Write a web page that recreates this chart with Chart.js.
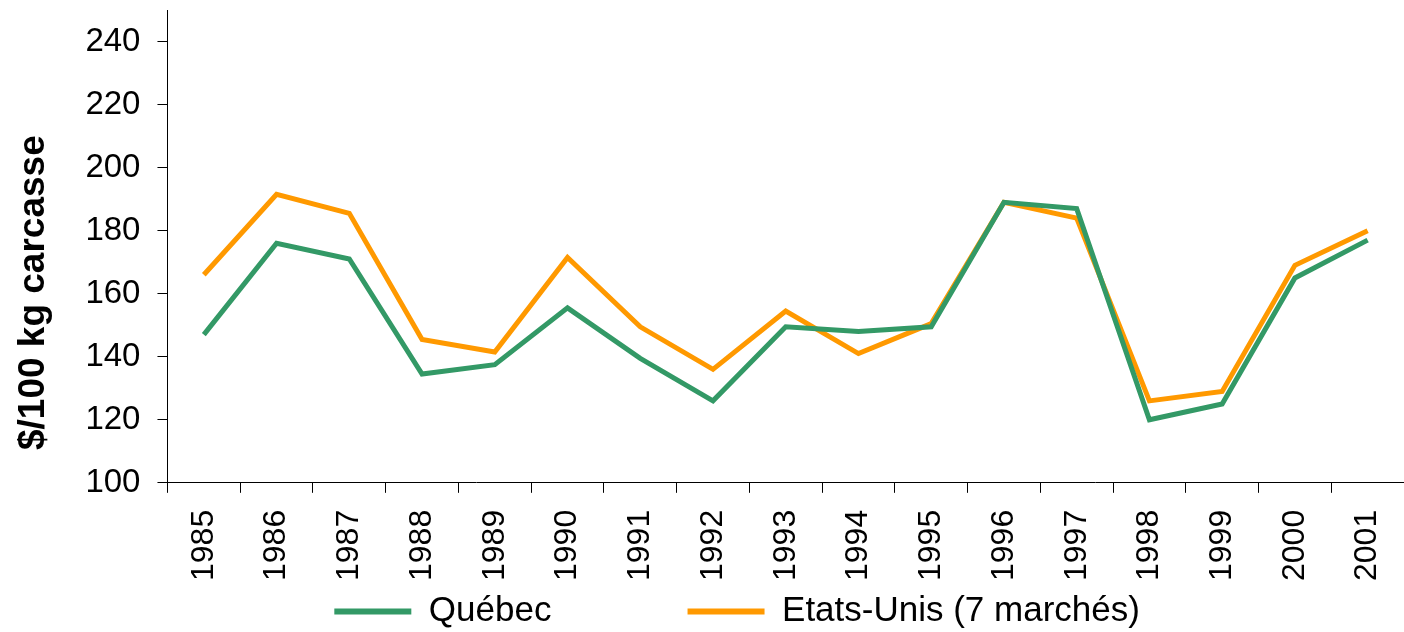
<!DOCTYPE html>
<html>
<head>
<meta charset="utf-8">
<script src="https://cdn.jsdelivr.net/npm/chart.js@4/dist/chart.umd.min.js"></script>
<style>
  html, body { margin: 0; padding: 0; background: #fff; }
  #wrap { width: 1404px; height: 632px; }
</style>
</head>
<body>
<div id="wrap"><canvas id="display_graph"></canvas></div>
<script>
const years = ["1985", "1986", "1987", "1988", "1989", "1990", "1991", "1992", "1993",
  "1994", "1995", "1996", "1997", "1998", "1999", "2000", "2001"];
const quebec = [147, 176, 171, 134.5, 137.5, 155.5, 139.5, 126, 149.5, 148, 149.5, 189, 187, 120, 125, 165, 177];
const etatsUnis = [166, 191.5, 185.5, 145.5, 141.5, 171.5, 149.5, 136, 154.5, 141, 150.5, 189, 184, 126, 129, 169, 180];
const yTicks = [100, 120, 140, 160, 180, 200, 220, 240];

const font = "'Liberation Sans', Arial, sans-serif";
const ctx = document.getElementById("display_graph").getContext("2d");

const data = {
  labels: years,
  datasets: [
    {
      label: "Québec",
      data: quebec,
      borderColor: "#339966",
      backgroundColor: "#339966",
      borderWidth: 5,
      pointRadius: 0,
      tension: 0
    },
    {
      label: "Etats-Unis (7 marchés)",
      data: etatsUnis,
      borderColor: "#FF9900",
      backgroundColor: "#FF9900",
      borderWidth: 5,
      pointRadius: 0,
      tension: 0
    }
  ]
};

const options = {
  responsive: true,
  maintainAspectRatio: false,
  animation: false,
  layout: {
    padding: { top: 10, right: 0, left: 12, bottom: -7 }
  },
  plugins: {
    tooltip: { enabled: false },
    legend: {
      position: "bottom",
      fullSize: false,
      labels: {
        font: { family: font, size: 35 },
        color: "#000",
        usePointStyle: true,
        pointStyle: "line",
        pointStyleWidth: 77,
        padding: 0,
        generateLabels: function (chart) {
          const items = Chart.defaults.plugins.legend.labels.generateLabels(chart);
          items.forEach(function (it, i) {
            it.lineWidth = 6;
            // spacing between the two legend entries, as in the original
            if (i === 0) it.text = it.text + "\u00a0".repeat(14);
            else it.text = it.text + "\u00a0".repeat(10);
          });
          return items;
        }
      }
    }
  },
  scales: {
    x: {
      offset: true,
      afterFit: function (axis) {
        axis.paddingLeft = 0;
        axis.paddingRight = 0;
        axis.height -= 4;
      },
      grid: {
        offset: true,
        drawOnChartArea: false,
        drawTicks: true,
        tickLength: 10,
        color: "#000"
      },
      border: { color: "#000", width: 1 },
      ticks: {
        minRotation: 90,
        maxRotation: 90,
        autoSkip: false,
        padding: 17,
        color: "#000",
        font: { family: font, size: 32 }
      }
    },
    y: {
      min: 100,
      max: 250,
      afterBuildTicks: function (axis) {
        axis.ticks = yTicks.map(function (v) { return { value: v }; });
      },
      afterFit: function (axis) {
        axis.paddingTop = 0;
        axis.paddingBottom = 0;
      },
      grid: {
        drawOnChartArea: false,
        drawTicks: true,
        tickLength: 10,
        color: "#000"
      },
      border: { color: "#000", width: 1 },
      ticks: {
        padding: 17,
        color: "#000",
        font: { family: font, size: 33 }
      },
      title: {
        display: true,
        // trailing spaces push the title lower, as in the original
        text: "$/100 kg carcasse" + "\u00a0".repeat(9),
        color: "#000",
        font: { family: font, size: 37, weight: "bold" },
        padding: { top: 0, bottom: 12 }
      }
    }
  }
};

const lineChart = new Chart(ctx, {
  type: "line",
  data: data,
  options: options
});
</script>
</body>
</html>
